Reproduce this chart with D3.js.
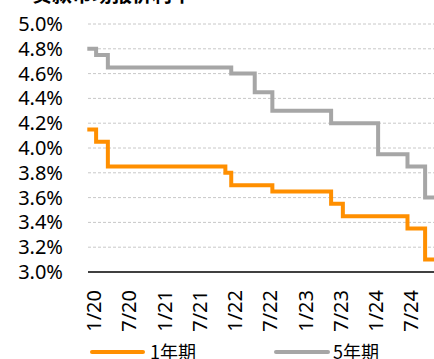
<!DOCTYPE html>
<html><head><meta charset="utf-8">
<script src="https://cdn.jsdelivr.net/npm/d3@7/dist/d3.min.js"></script>
<style>
html,body{margin:0;padding:0;background:#fff;overflow:hidden;}
svg{display:block;}
text{font-family:"Noto Sans CJK SC","Noto Sans",sans-serif;}
</style></head>
<body>
<script>
const title = "贷款市场报价利率";
const months = [
 "2019-12",
 "2020-01","2020-02","2020-03","2020-04","2020-05","2020-06","2020-07","2020-08","2020-09","2020-10","2020-11","2020-12",
 "2021-01","2021-02","2021-03","2021-04","2021-05","2021-06","2021-07","2021-08","2021-09","2021-10","2021-11","2021-12",
 "2022-01","2022-02","2022-03","2022-04","2022-05","2022-06","2022-07","2022-08","2022-09","2022-10","2022-11","2022-12",
 "2023-01","2023-02","2023-03","2023-04","2023-05","2023-06","2023-07","2023-08","2023-09","2023-10","2023-11","2023-12",
 "2024-01","2024-02","2024-03","2024-04","2024-05","2024-06","2024-07","2024-08","2024-09","2024-10","2024-11","2024-12"
];
const lpr1y = [
 4.15,
 4.15,4.05,4.05,3.85,3.85,3.85,3.85,3.85,3.85,3.85,3.85,3.85,
 3.85,3.85,3.85,3.85,3.85,3.85,3.85,3.85,3.85,3.85,3.85,3.80,
 3.70,3.70,3.70,3.70,3.70,3.70,3.70,3.65,3.65,3.65,3.65,3.65,
 3.65,3.65,3.65,3.65,3.65,3.55,3.55,3.45,3.45,3.45,3.45,3.45,
 3.45,3.45,3.45,3.45,3.45,3.45,3.35,3.35,3.35,3.10,3.10,3.10
];
const lpr5y = [
 4.80,
 4.80,4.75,4.75,4.65,4.65,4.65,4.65,4.65,4.65,4.65,4.65,4.65,
 4.65,4.65,4.65,4.65,4.65,4.65,4.65,4.65,4.65,4.65,4.65,4.65,
 4.60,4.60,4.60,4.60,4.45,4.45,4.45,4.30,4.30,4.30,4.30,4.30,
 4.30,4.30,4.30,4.30,4.30,4.20,4.20,4.20,4.20,4.20,4.20,4.20,
 4.20,3.95,3.95,3.95,3.95,3.95,3.85,3.85,3.85,3.60,3.60,3.60
];
const tickMonths = ["2020-01","2020-07","2021-01","2021-07","2022-01","2022-07","2023-01","2023-07","2024-01","2024-07"];
const tickLabels = ["1/20","7/20","1/21","7/21","1/22","7/22","1/23","7/23","1/24","7/24"];
const yTicks = [3.0,3.2,3.4,3.6,3.8,4.0,4.2,4.4,4.6,4.8,5.0];
const seriesNames = ["1年期","5年期"];
const colors = ["#FF8F00","#A6A6A6"];

const W = 434, H = 359;
const svg = d3.select("body").append("svg").attr("width", W).attr("height", H);

const x = d3.scalePoint().domain(months).range([87.3, 87.3 + 60*5.875]);
const y = d3.scaleLinear().domain([3.0, 5.0]).range([272, 24]);
const plotLeft = 88, plotRight = 445;

// title (cropped at top, as in the reference)
svg.append("text").attr("x", 32).attr("y", 2).attr("font-size", 20).attr("font-weight", "bold")
  .attr("fill", "#000").text(title);

// gridlines
svg.append("g").selectAll("line").data(yTicks.filter(d => d > 3.0)).join("line")
  .attr("x1", plotLeft).attr("x2", plotRight)
  .attr("y1", d => y(d)).attr("y2", d => y(d))
  .attr("stroke", "#c8c8c8").attr("stroke-width", 1).attr("stroke-dasharray", "3,2");

// y axis labels
const yAxis = d3.axisLeft(y).tickValues(yTicks).tickSize(0).tickPadding(0)
  .tickFormat(d => d.toFixed(1) + "%");
const gy = svg.append("g").attr("transform", "translate(63,0)").call(yAxis);
gy.select(".domain").remove();
gy.selectAll("text").attr("font-size", 20).attr("fill", "#000")
  .style("font-family", '"Noto Sans","Noto Sans CJK SC",sans-serif');

// x axis baseline
svg.append("line").attr("x1", plotLeft).attr("x2", plotRight)
  .attr("y1", y(3.0)).attr("y2", y(3.0)).attr("stroke", "#000").attr("stroke-width", 1.3);

// x tick labels
const xAxis = d3.axisBottom(x).tickValues(tickMonths).tickSize(0)
  .tickFormat((d) => tickLabels[tickMonths.indexOf(d)]);
const gx = svg.append("g").attr("transform", `translate(0,${y(3.0)})`).call(xAxis);
gx.select(".domain").remove();
gx.selectAll("text")
  .attr("font-size", 20).attr("fill", "#000")
  .style("font-family", '"Noto Sans","Noto Sans CJK SC",sans-serif')
  .attr("text-anchor", "end").attr("dy", null).attr("y", 0).attr("x", 0)
  .attr("transform", "translate(0,18) rotate(-90)")
  .attr("dominant-baseline", "central");

// lines
const line = d3.line().x((d, i) => x(months[i])).y(d => y(d)).curve(d3.curveStep);
[lpr5y, lpr1y].forEach((s, k) => {
  const idx = k === 0 ? 1 : 0;
  svg.append("path").datum(s).attr("d", line)
    .attr("fill", "none").attr("stroke", colors[idx]).attr("stroke-width", 4)
    .attr("stroke-linejoin", "miter");
});

// legend (cropped at bottom, as in the reference)
const leg = [{x1: 92, x2: 143, tx: 150}, {x1: 276, x2: 328, tx: 333}];
seriesNames.forEach((n, i) => {
  svg.append("line").attr("x1", leg[i].x1).attr("x2", leg[i].x2).attr("y1", 352).attr("y2", 352)
    .attr("stroke", colors[i]).attr("stroke-width", 4).attr("stroke-linecap", "round");
  svg.append("text").attr("x", leg[i].tx).attr("y", 359).attr("font-size", 18).attr("fill", "#000").text(n);
});
</script>
</body></html>
